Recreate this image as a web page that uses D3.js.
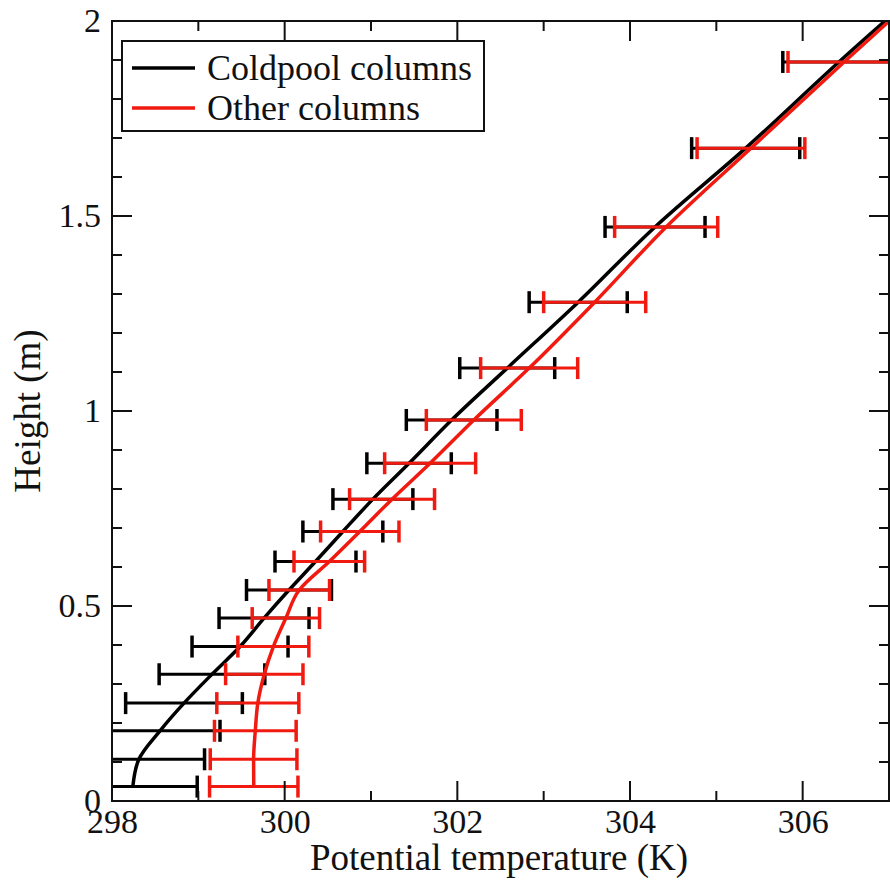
<!DOCTYPE html>
<html>
<head>
<meta charset="utf-8">
<script src="https://cdn.jsdelivr.net/npm/d3@7"></script>
<style>
  body { margin: 0; background: #fff; }
</style>
</head>
<body>
<svg id="chart" width="890" height="885"></svg>
<script>
// Model levels (m) and mean potential temperature profiles (K) with their spread
const heights = [0.037, 0.107, 0.180, 0.251, 0.325, 0.396, 0.469, 0.541, 0.614, 0.691,
                 0.774, 0.866, 0.977, 1.110, 1.279, 1.472, 1.674, 1.895, 2.110];
const coldMean = [298.241, 298.311, 298.556, 298.834, 299.158, 299.483, 299.761, 300.050, 300.357, 300.674,
                  301.022, 301.441, 301.934, 302.578, 303.400, 304.290, 305.340, 306.420, 307.520];
const coldSd   = [0.746, 0.761, 0.695, 0.676, 0.612, 0.556, 0.521, 0.492, 0.469, 0.463,
                  0.463, 0.489, 0.525, 0.550, 0.568, 0.579, 0.626, 0.650, 0.660];
const otherMean = [299.642, 299.640, 299.660, 299.689, 299.764, 299.869, 300.014, 300.169, 300.517, 300.870,
                   301.244, 301.685, 302.191, 302.832, 303.591, 304.419, 305.401, 306.480, 307.550];
const otherSd   = [0.512, 0.502, 0.473, 0.475, 0.448, 0.411, 0.390, 0.351, 0.409, 0.454,
                   0.492, 0.527, 0.550, 0.562, 0.591, 0.597, 0.624, 0.650, 0.660];

const seriesNames = ["Coldpool columns", "Other columns"];
const seriesColors = ["#000000", "#f01a10"];
const xMajorTicks = [298, 300, 302, 304, 306];
const xMinorTicks = [299, 301, 303, 305, 307];
const yMajorTicks = [0, 0.5, 1, 1.5, 2];
const yMinorTicks = [0.1, 0.2, 0.3, 0.4, 0.6, 0.7, 0.8, 0.9, 1.1, 1.2, 1.3, 1.4, 1.6, 1.7, 1.8, 1.9];
const xLabel = "Potential temperature (K)";
const yLabel = "Height (m)";

const serif = '"Liberation Serif", "DejaVu Serif", "Times New Roman", serif';
const svg = d3.select("#chart");
const pLeft = 112, pRight = 889, pTop = 21, pBottom = 801;

const x = d3.scaleLinear().domain([298, 307]).range([pLeft, pRight]);
const y = d3.scaleLinear().domain([0, 2]).range([pBottom, pTop]);

const font = 34;

svg.append("defs").append("clipPath").attr("id", "plotClip")
  .append("rect").attr("x", pLeft).attr("y", pTop)
  .attr("width", pRight - pLeft).attr("height", pBottom - pTop);

const plot = svg.append("g").attr("clip-path", "url(#plotClip)");

const series = [
  { mean: coldMean, sd: coldSd, color: seriesColors[0] },
  { mean: otherMean, sd: otherSd, color: seriesColors[1] }
];

const line = d3.line()
  .x(d => x(d.m))
  .y(d => y(d.h))
  .curve(d3.curveMonotoneY);

series.forEach(s => {
  const rows = heights.map((h, i) => ({ h, m: s.mean[i], sd: s.sd[i] }));
  const g = plot.append("g");
  const bars = g.selectAll("g.bar").data(rows).join("g").attr("class", "bar")
    .attr("stroke", s.color).attr("fill", "none");
  bars.append("line")
    .attr("x1", d => x(d.m - d.sd)).attr("x2", d => x(d.m + d.sd))
    .attr("y1", d => y(d.h)).attr("y2", d => y(d.h))
    .attr("stroke-width", 3);
  bars.append("line")
    .attr("x1", d => x(d.m - d.sd)).attr("x2", d => x(d.m - d.sd))
    .attr("y1", d => y(d.h) - 11).attr("y2", d => y(d.h) + 11)
    .attr("stroke-width", 3.5);
  bars.append("line")
    .attr("x1", d => x(d.m + d.sd)).attr("x2", d => x(d.m + d.sd))
    .attr("y1", d => y(d.h) - 11).attr("y2", d => y(d.h) + 11)
    .attr("stroke-width", 3.5);
  g.append("path").datum(rows)
    .attr("d", line).attr("fill", "none")
    .attr("stroke", s.color).attr("stroke-width", 3.5);
});

// Frame
svg.append("rect").attr("x", pLeft).attr("y", pTop)
  .attr("width", pRight - pLeft).attr("height", pBottom - pTop)
  .attr("fill", "none").attr("stroke", "#111").attr("stroke-width", 2);

// Inward ticks on all four sides
const tickG = svg.append("g").attr("stroke", "#111").attr("stroke-width", 2);
function xTicksAt(vals, len) {
  vals.forEach(v => {
    tickG.append("line").attr("x1", x(v)).attr("x2", x(v)).attr("y1", pBottom).attr("y2", pBottom - len);
    tickG.append("line").attr("x1", x(v)).attr("x2", x(v)).attr("y1", pTop).attr("y2", pTop + len);
  });
}
function yTicksAt(vals, len) {
  vals.forEach(v => {
    tickG.append("line").attr("y1", y(v)).attr("y2", y(v)).attr("x1", pLeft).attr("x2", pLeft + len);
    tickG.append("line").attr("y1", y(v)).attr("y2", y(v)).attr("x1", pRight).attr("x2", pRight - len);
  });
}
xTicksAt(xMajorTicks, 20);
xTicksAt(xMinorTicks, 10);
yTicksAt(yMajorTicks, 20);
yTicksAt(yMinorTicks, 10);

// Tick labels
const xAxis = d3.axisBottom(x).tickValues(xMajorTicks).tickSize(0).tickPadding(8).tickFormat(d3.format("d"));
const xg = svg.append("g").attr("transform", `translate(0,${pBottom})`).call(xAxis);
xg.select(".domain").remove();
xg.selectAll("text").style("font-family", serif).style("font-size", font + "px").attr("fill", "#111");

const yAxis = d3.axisLeft(y).tickValues(yMajorTicks).tickSize(0).tickPadding(11).tickFormat(d => String(d));
const yg = svg.append("g").attr("transform", `translate(${pLeft},0)`).call(yAxis);
yg.select(".domain").remove();
yg.selectAll("text").style("font-family", serif).style("font-size", font + "px").attr("fill", "#111");

// Axis titles
svg.append("text").attr("x", 499).attr("y", 870)
  .attr("text-anchor", "middle").style("font-family", serif).style("font-size", "37px")
  .attr("fill", "#111").text(xLabel);
svg.append("text").attr("transform", "translate(40,411) rotate(-90)")
  .attr("text-anchor", "middle").style("font-family", serif).style("font-size", "37px")
  .attr("fill", "#111").text(yLabel);

// Legend
const legend = svg.append("g");
legend.append("rect").attr("x", 122).attr("y", 41).attr("width", 362).attr("height", 90)
  .attr("fill", "#fff").attr("stroke", "#111").attr("stroke-width", 2);
seriesNames.forEach((name, i) => {
  const ly = 68 + i * 40;
  legend.append("line").attr("x1", 132).attr("x2", 195).attr("y1", ly).attr("y2", ly)
    .attr("stroke", seriesColors[i]).attr("stroke-width", 3.5);
  legend.append("text").attr("x", 207).attr("y", ly + 12)
    .style("font-family", serif).style("font-size", "36px").attr("fill", "#111").text(name);
});
</script>
</body>
</html>
